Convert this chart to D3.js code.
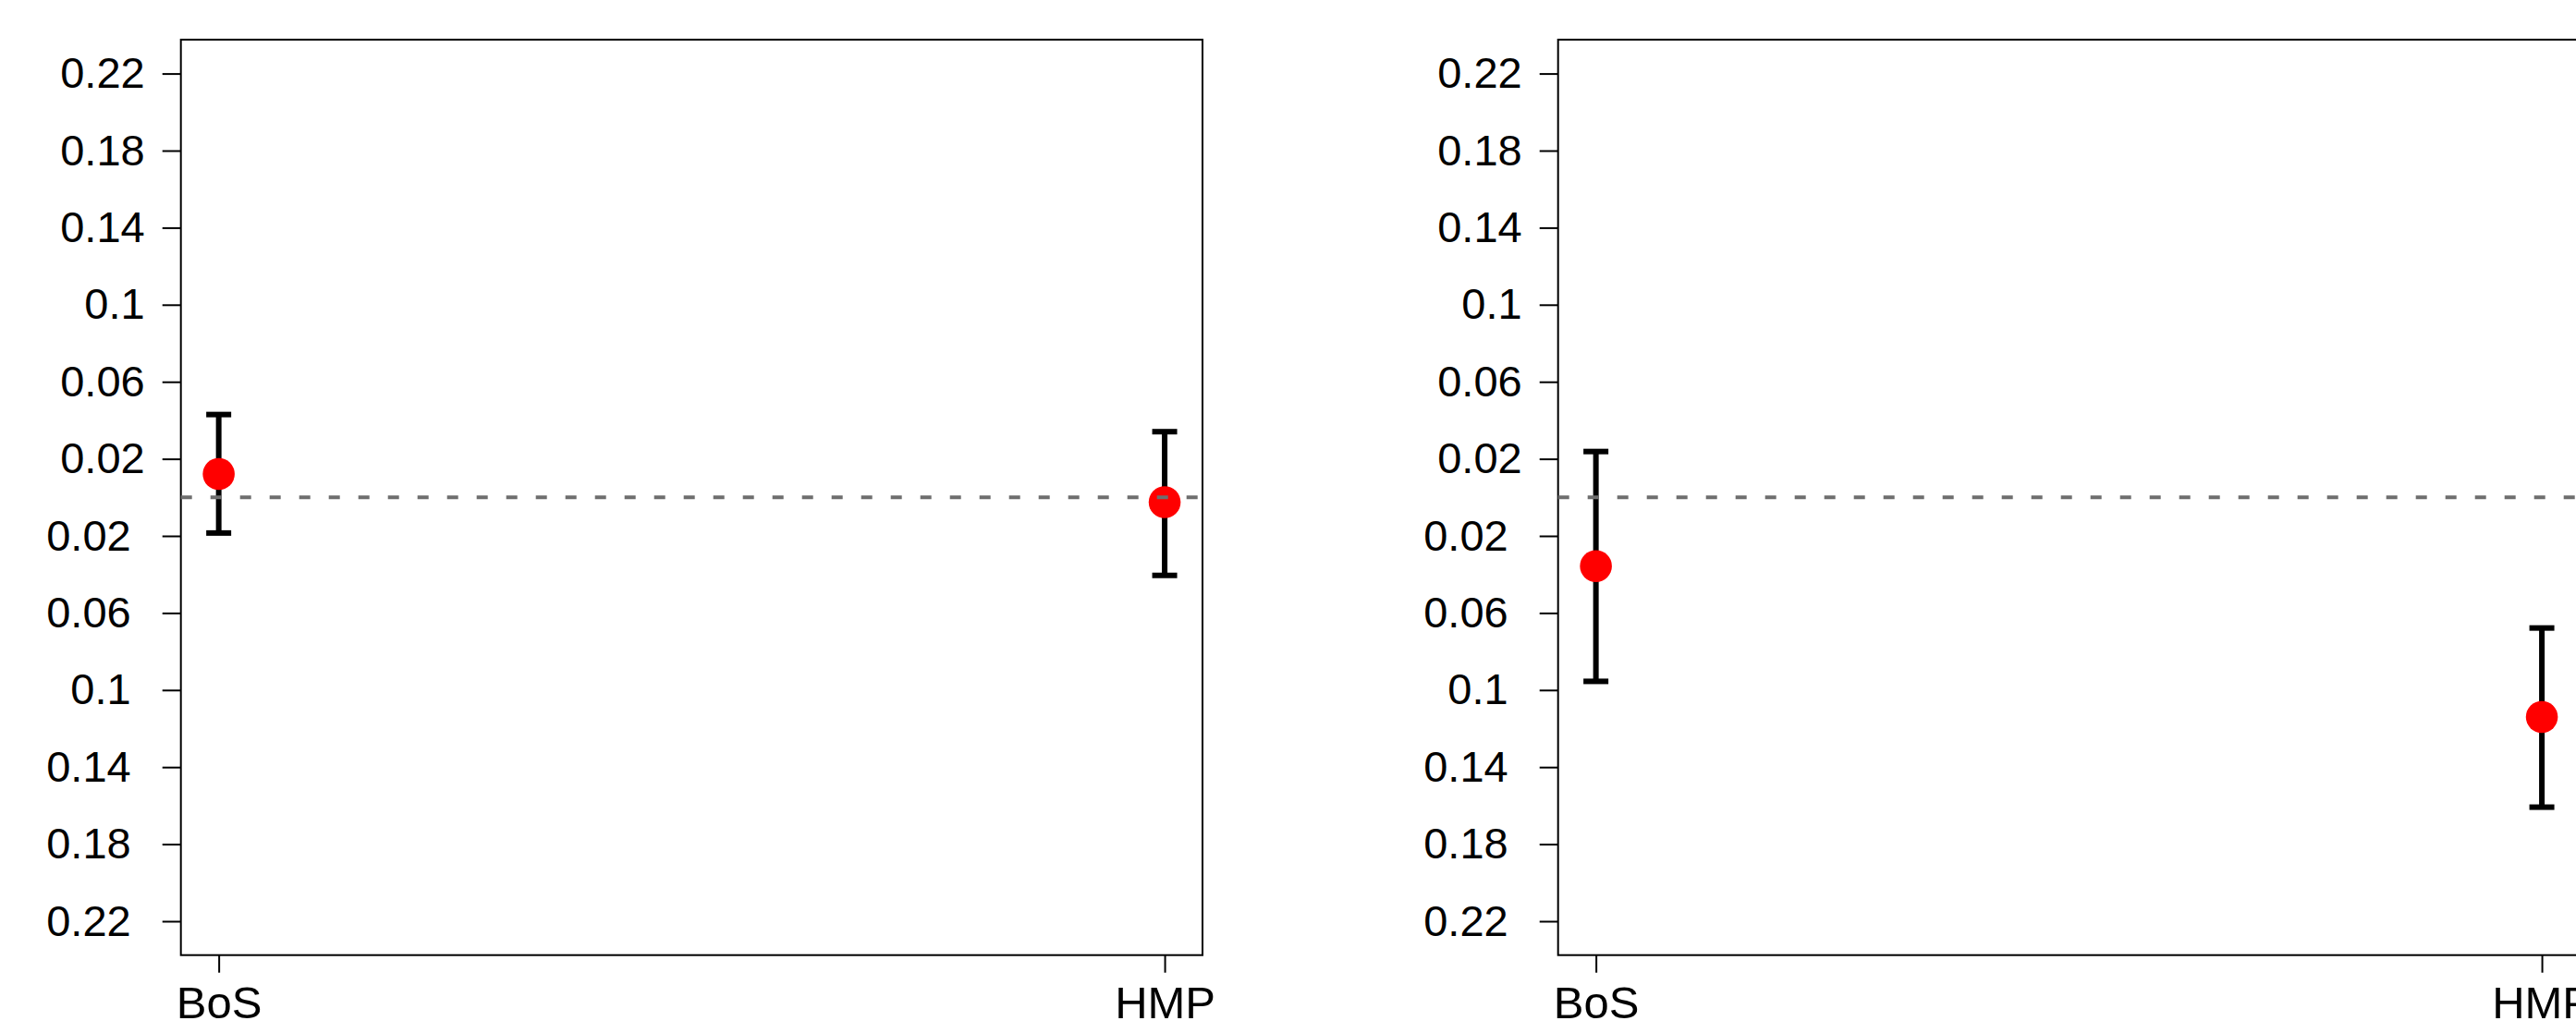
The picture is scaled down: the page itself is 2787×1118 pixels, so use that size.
<!DOCTYPE html>
<html>
<head>
<meta charset="utf-8">
<script src="https://cdn.jsdelivr.net/npm/d3@7"></script>
<style>
  body { margin: 0; background: #fff; overflow: hidden; }
  text { font-family: "Liberation Sans", Arial, sans-serif; fill: #000; }
</style>
</head>
<body>
<div class="chart"></div>
<script>
const categories = ["BoS", "HMP"]

// panel 1
const mean1 = [0.0121, -0.0025]
const lower1 = [-0.0185, -0.0405]
const upper1 = [0.0430, 0.0341]

// panel 2
const mean2 = [-0.0357, -0.1140]
const lower2 = [-0.0955, -0.1608]
const upper2 = [0.0238, -0.0678]

const tickValues = [0.22, 0.18, 0.14, 0.1, 0.06, 0.02, -0.02, -0.06, -0.1, -0.14, -0.18, -0.22]
const tickLabels = ["0.22", "0.18", "0.14", "0.1", "0.06", "0.02", "0.02", "0.06", "0.1", "0.14", "0.18", "0.22"]

const yLimit = 0.22

const totalWidth = 2787
const totalHeight = 1118

const margin = {top: 42.9, left: 195.7}
const width = 1105.3
const height = 990.8
const panelGap = 1490

const svg = d3.select(".chart").append("svg")
    .attr("width", totalWidth)
    .attr("height", totalHeight)

const xScale = d3.scalePoint()
    .domain(categories)
    .range([0, width])
    .padding(0.04)

// R style 4% extension of the limits
const yScale = d3.scaleLinear()
    .domain([-yLimit * 1.08, yLimit * 1.08])
    .range([height, 0])

const yAxis = d3.axisLeft(yScale)
    .tickValues(tickValues)
    .tickFormat((d, i) => tickLabels[i])
    .tickSize(20)
    .tickPadding(19)

const xAxis = d3.axisBottom(xScale)
    .tickSize(19)
    .tickPadding(15)

function drawPanel(index, means, lows, highs){
    const data = categories.map((c, i) => ({cat: c, mean: means[i], lo: lows[i], hi: highs[i]}))

    const g = svg.append("g")
        .attr("transform", `translate(${margin.left + index * panelGap},${margin.top})`)

    const yGroup = g.append("g")
        .attr("class", "y-axis")
        .call(yAxis)
    yGroup.select(".domain").remove()
    yGroup.selectAll(".tick line").attr("stroke", "#000").attr("stroke-width", 2)
    yGroup.selectAll(".tick text")
        .style("font-size", "47px")
        .attr("dx", d => d < 0 ? -15 : 0)

    const xGroup = g.append("g")
        .attr("class", "x-axis")
        .attr("transform", `translate(0,${height})`)
        .call(xAxis)
    xGroup.select(".domain").remove()
    xGroup.selectAll(".tick line").attr("stroke", "#000").attr("stroke-width", 2)
    xGroup.selectAll(".tick text").style("font-size", "49px")

    g.append("rect")
        .attr("x", 0)
        .attr("y", 0)
        .attr("width", width)
        .attr("height", height)
        .attr("fill", "none")
        .attr("stroke", "#000")
        .attr("stroke-width", 2)

    const bars = g.selectAll(".err")
        .data(data)
        .join("g")
        .attr("class", "err")
        .attr("stroke", "#000")
        .attr("stroke-width", 6)

    bars.append("line")
        .attr("x1", d => xScale(d.cat))
        .attr("x2", d => xScale(d.cat))
        .attr("y1", d => yScale(d.hi))
        .attr("y2", d => yScale(d.lo))

    bars.append("line")
        .attr("x1", d => xScale(d.cat) - 13.5)
        .attr("x2", d => xScale(d.cat) + 13.5)
        .attr("y1", d => yScale(d.hi))
        .attr("y2", d => yScale(d.hi))

    bars.append("line")
        .attr("x1", d => xScale(d.cat) - 13.5)
        .attr("x2", d => xScale(d.cat) + 13.5)
        .attr("y1", d => yScale(d.lo))
        .attr("y2", d => yScale(d.lo))

    g.selectAll(".dot")
        .data(data)
        .join("circle")
        .attr("class", "dot")
        .attr("cx", d => xScale(d.cat))
        .attr("cy", d => yScale(d.mean))
        .attr("r", 17.3)
        .attr("fill", "#ff0000")

    // zero reference line
    g.append("line")
        .attr("x1", 0)
        .attr("x2", width)
        .attr("y1", yScale(0))
        .attr("y2", yScale(0))
        .attr("stroke", "#6e6e6e")
        .attr("stroke-width", 4)
        .attr("stroke-dasharray", "12,20")
}

drawPanel(0, mean1, lower1, upper1)
drawPanel(1, mean2, lower2, upper2)
</script>
</body>
</html>
